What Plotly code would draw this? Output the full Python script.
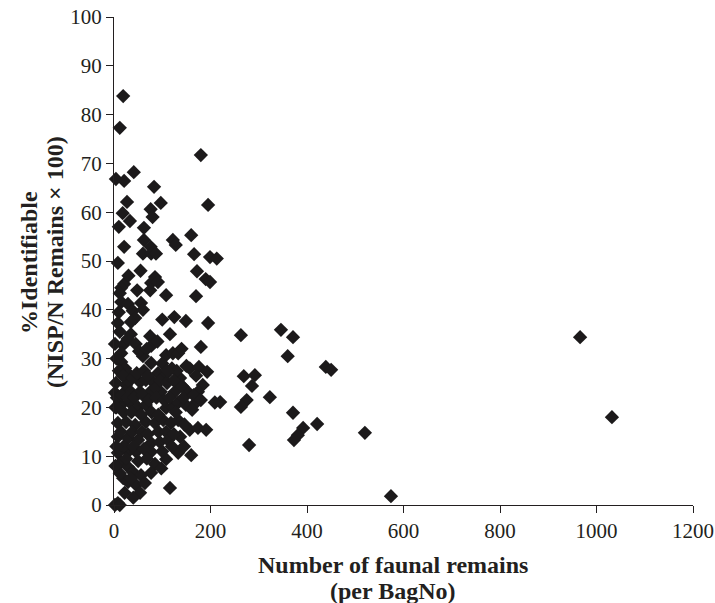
import plotly.graph_objects as go

remains = [19,12,180,4,21,41,83,27,97,195,18,76,80,33,10,62,62,122,128,160,21,76,60,77,87,166,199,213,8,172,190,199,85,77,91,75,21,15,12,170,56,15,29,10,39,44,8,149,195,35,
           35,75,116,2,19,77,180,15,60,108,122,133,15,77,23,157,176,193,91,106,29,4,54,66,81,137,184,25,143,
           2,23,35,54,75,97,126,153,174,209,3,15,33,50,66,108,122,133,149,170,8,25,44,66,85,102,118,157,174,191,133,8,29,50,77,95,112,137,
           8,29,46,77,108,133,160,15,29,39,85,77,56,19,29,46,54,116,8,2,12,
           263,346,371,360,439,450,269,292,286,323,275,263,220,371,421,392,381,373,520,280,574,966,1032,
           12,28,45,52,68,90,100,120,130,140,10,18,38,47,62,70,86,96,110,124,6,16,28,42,60,72,88,104,115,144,20,36,56,78,92,128,162,14,38,58,70,92,108,124,146,20,40,62,100,120,25,50,68,12,35,64,22,40,98,145,165,180,110,150,140,170,125,100,60,48,30,108,55,5,5,5,3]
pct_identifiable = [83.8,77.3,71.7,66.8,66.4,68.2,65.2,62.1,61.9,61.5,59.8,60.6,59,58.2,57,56.8,54.3,54.3,53.3,55.3,52.9,52.9,51.5,51.5,51.5,51.4,50.8,50.5,49.6,47.9,46.3,45.7,46.7,45.5,45.7,44,45.3,44.5,43.4,42.8,41.4,41.6,41.2,39.5,39.8,38.3,37.3,37.7,37.3,37.5,
                    35,34.6,35,33,32.8,32.6,32.4,31.1,30.5,30.7,31.1,31.1,29.3,29.1,28,28,28.3,27.3,27,26.6,27,25,25.2,25.6,25.2,26,24.6,24.6,24.2,
                    23,23.2,23.2,23.2,23.2,23.2,23.2,23.2,23.2,21,20,20.5,21,20,20.5,19.9,20,21,20.5,21,16.8,17,16.4,17,16.8,17.4,16.8,15.4,15.8,15.4,17.4,14,13.7,13.3,12.7,12.9,13.3,14,
                    10.7,10.9,10.9,10.9,9.4,10.7,10.2,8.8,7.8,6.8,8.4,6.6,6.1,5.5,4.7,4.1,2.5,3.5,0.4,0,0,
                    34.8,35.9,34.4,30.5,28.3,27.7,26.4,26.6,24.4,22.1,21.5,20.1,21.1,18.9,16.6,15.8,14.3,13.3,14.8,12.3,1.8,34.4,18,
                    35.5,34,33,31.5,32,33.5,29,28,27.5,24.5,27.5,26.5,26,27,27.5,26.5,24,25.5,25,25.5,22,22.5,22,22,22.5,21.5,22,21.5,22,22,19,19,18.5,19,18.5,19,19.5,15,15,15,14.5,15,15,14.5,16.5,12,12,11.5,11,12,9.5,9,9.5,6.5,5.5,4.5,2.5,1.5,7.5,12,22.5,21.5,27.5,28.5,32,26.5,38.5,38,40,44,47,43,48,30,20,12,8]

x_ticks = [0, 200, 400, 600, 800, 1000, 1200]
y_ticks = [0, 10, 20, 30, 40, 50, 60, 70, 80, 90, 100]

x_title_lines = ["Number of faunal remains", "(per BagNo)"]
y_title_lines = ["%Identifiable", "(NISP/N Remains × 100)"]

font_family = "Liberation Serif"
ink = "#231f20"

fig = go.Figure(go.Scatter(
    x=remains, y=pct_identifiable, mode="markers",
    marker=dict(symbol="diamond", size=11, color="#1c1a1b"),
    cliponaxis=False,
))

W, H = 715, 603
L, R, T, B = 114, 22, 17, 98
pw, ph = W - L - R, H - T - B

def px_x(p):
    return (p - L) / pw

def px_y(p):
    return (T + ph - p) / ph

fig.update_layout(
    width=W, height=H,
    margin=dict(l=L, r=R, t=T, b=B),
    paper_bgcolor="white", plot_bgcolor="white",
    showlegend=False,
    font=dict(family=font_family, color=ink, size=21),
)
fig.update_xaxes(
    range=[0, 1200], tickvals=x_ticks, ticktext=[str(v) for v in x_ticks],
    showgrid=False, zeroline=False, showline=True, linecolor=ink, linewidth=1,
    ticks="outside", ticklen=7, tickcolor=ink, automargin=False,
    ticklabeloverflow="allow",
    tickfont=dict(size=21, family=font_family, color=ink),
)
fig.update_yaxes(
    range=[0, 100], tickvals=y_ticks, ticktext=[str(v) for v in y_ticks],
    showgrid=False, zeroline=False, showline=True, linecolor=ink, linewidth=1,
    ticks="outside", ticklen=7, tickcolor=ink, automargin=False,
    ticklabeloverflow="allow",
    tickfont=dict(size=21, family=font_family, color=ink),
)
title_font = dict(size=24, family=font_family, color=ink)
for line, ypix in zip(x_title_lines, [565, 591]):
    fig.add_annotation(
        text=f"<b>{line}</b>", xref="paper", yref="paper",
        x=px_x(393), y=px_y(ypix), xanchor="center", yanchor="middle",
        showarrow=False, font=title_font,
    )
for line, xpix in zip(y_title_lines, [29, 55]):
    fig.add_annotation(
        text=f"<b>{line}</b>", xref="paper", yref="paper",
        x=px_x(xpix), y=px_y(262), xanchor="center", yanchor="middle",
        textangle=-90, showarrow=False, font=title_font,
    )
fig.write_html(
    "out.html",
    config={"displayModeBar": False},
    post_script="document.body.style.margin='0';document.body.style.overflow='hidden';",
)
